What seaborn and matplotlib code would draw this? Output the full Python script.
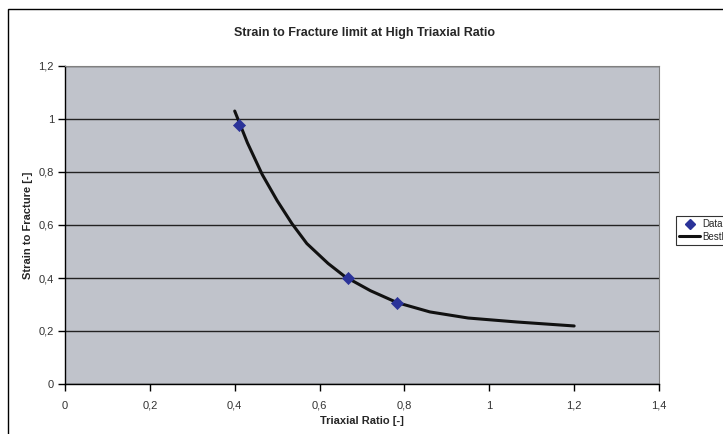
import matplotlib
matplotlib.use("Agg")
import matplotlib.pyplot as plt
import seaborn as sns
import pandas as pd
from matplotlib.ticker import FuncFormatter
from matplotlib.patches import Rectangle
from matplotlib.lines import Line2D

# Measured fracture points
triaxial_data = [0.41, 0.666, 0.783]
strain_data = [0.977, 0.400, 0.307]

# Best-fit curve
fit_x = [0.400, 0.430, 0.465, 0.500, 0.535, 0.570, 0.620, 0.660, 0.720,
         0.783, 0.860, 0.950, 1.065, 1.200]
fit_y = [1.030, 0.910, 0.790, 0.692, 0.605, 0.530, 0.455, 0.405, 0.352,
         0.307, 0.272, 0.249, 0.234, 0.219]

x_ticks = [0, 0.2, 0.4, 0.6, 0.8, 1.0, 1.2, 1.4]
y_ticks = [0, 0.2, 0.4, 0.6, 0.8, 1.0, 1.2]

sns.set_style("white")
plt.rcParams["font.family"] = ["Liberation Sans", "DejaVu Sans"]

W, H = 723, 434
fig = plt.figure(figsize=(W / 100, H / 100), dpi=100)
fig.patch.set_facecolor("white")

# outer chart frame
fig.add_artist(Rectangle((8 / W, -0.05), 1.2, 1 - 9 / H + 0.05,
                         transform=fig.transFigure, fill=False,
                         edgecolor="black", linewidth=1.0))

ax = fig.add_axes([65 / W, 50 / H, 594 / W, 318 / H])
ax.set_facecolor("#C0C3CB")

fit_df = pd.DataFrame({"x": fit_x, "y": fit_y})
data_df = pd.DataFrame({"x": triaxial_data, "y": strain_data})

sns.lineplot(data=fit_df, x="x", y="y", ax=ax, color="#111111",
             linewidth=2.2, sort=False, zorder=3)
sns.scatterplot(data=data_df, x="x", y="y", ax=ax, marker="D",
                color="#2B3399", s=38, edgecolor="#2B3399", zorder=4)

ax.set_xlim(0, 1.4)
ax.set_ylim(0, 1.2)
ax.set_xticks(x_ticks)
ax.set_yticks(y_ticks)
fmt = FuncFormatter(lambda v, p: f"{v:g}".replace(".", ","))
ax.xaxis.set_major_formatter(fmt)
ax.yaxis.set_major_formatter(fmt)

ax.yaxis.grid(True, color="#222222", linewidth=1.0)
ax.xaxis.grid(False)
ax.set_axisbelow(True)

for side in ("left", "bottom"):
    ax.spines[side].set_color("black")
    ax.spines[side].set_linewidth(1.0)
for side in ("top", "right"):
    ax.spines[side].set_color("#808080")
    ax.spines[side].set_linewidth(0.8)

ax.tick_params(axis="both", direction="out", length=5, width=1,
               color="black", labelsize=8, labelcolor="#333333",
               bottom=True, left=True)
ax.tick_params(axis="x", pad=7)
ax.tick_params(axis="y", pad=3)

ax.set_xlabel("Triaxial Ratio [-]", fontsize=8, fontweight="bold",
              labelpad=4)
ax.set_ylabel("Strain to Fracture [-]", fontsize=8, fontweight="bold",
              labelpad=4)

fig.text(365 / W, 1 - 33 / H, "Strain to Fracture limit at High Triaxial Ratio",
         ha="center", va="center", fontsize=9, fontweight="bold")

handles = [
    Line2D([], [], marker="D", color="#2B3399", linestyle="none",
           markersize=5),
    Line2D([], [], color="#111111", linewidth=2.2),
]
leg = fig.legend(handles, ["Data", "BestFit"], loc="upper left",
                 bbox_to_anchor=(676 / W, 1 - 216 / H), fontsize=7,
                 frameon=True, fancybox=False, borderpad=0.3,
                 handlelength=2.2, handletextpad=0.2, labelspacing=0.3,
                 borderaxespad=0)
leg.get_frame().set_edgecolor("black")
leg.get_frame().set_linewidth(0.8)

fig.savefig("out.png", dpi=100)
